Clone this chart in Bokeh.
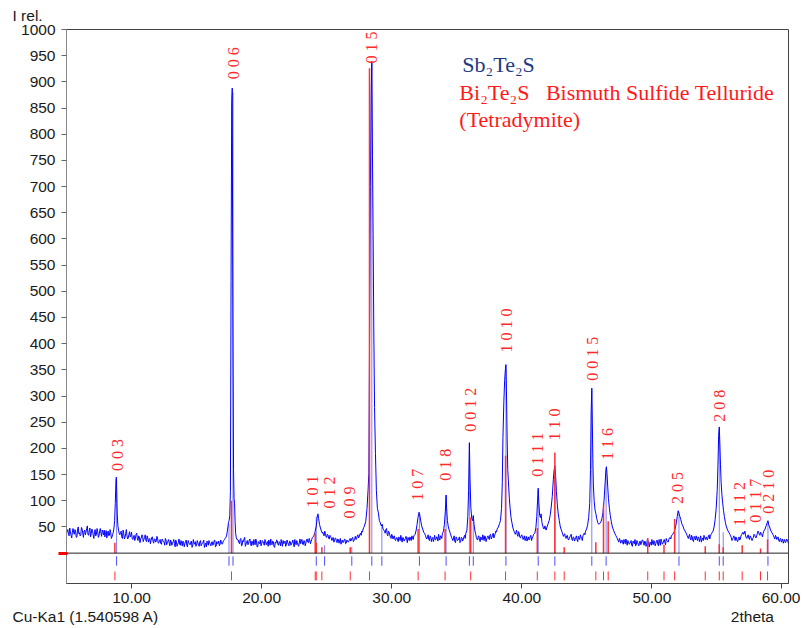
import numpy as np
from bokeh.plotting import figure
from bokeh.models import FixedTicker, PrintfTickFormatter, Label, Range1d, Span, Title
from bokeh.embed import file_html
from bokeh.resources import INLINE
from bokeh.core.properties import value

# ---------------- data ----------------
# background stretches: (first 2theta, intensities every 0.1 deg); *_mid = readings in between
bg_a = (5.0, [38, 45, 33, 41, 29, 47, 36, 42, 31, 50, 39, 35, 46, 30, 44, 40, 52, 34, 48, 37,
              43, 28, 45, 36, 41, 33, 47, 32, 40, 44, 36, 29, 42, 34, 39, 31])
bg_a_mid = [42, 36, 48, 34, 40, 39, 45, 30, 44, 37, 33, 49, 38, 42, 35, 47, 36, 43, 31, 46,
            35, 40, 33, 47, 30, 43, 38, 44, 35, 31, 43, 38, 33, 45, 28]
bg_b = (9.1, [35, 42, 28, 38, 30, 45, 27, 36, 31, 40,
              26, 34, 29, 38, 24, 31, 27, 35, 22, 30,
              25, 33, 21, 28, 24, 31, 19, 27, 23, 29,
              20, 26, 17, 24, 21, 28, 16, 23, 19, 25,
              15, 22, 18, 25, 13, 20, 17, 24, 14, 21,
              18, 25, 12, 20, 16, 23, 14, 19, 22, 15,
              20, 13, 24, 17, 21, 11, 19, 23, 15, 20,
              14, 22, 17, 25, 13, 19, 23, 16, 21, 18,
              24, 28, 33])
bg_b_mid = [39, 31, 44, 27, 37, 33, 29, 41, 34, 28,
            31, 24, 36, 27, 33, 20, 29, 32, 26, 35,
            22, 29, 26, 18, 30, 23, 27, 21, 32, 19,
            24, 18, 27, 22, 15, 25, 20, 26, 14, 22,
            19, 26, 12, 21, 17, 27, 15, 19, 23, 12,
            22, 15, 24, 18, 21, 11, 26, 17, 13, 24,
            16, 22, 14, 19, 25, 16, 12, 20, 24, 17,
            21, 15, 24, 12, 22, 18, 14, 25, 17, 23,
            26, 30]
bg_c = (18.2, [25, 18, 28, 15, 22, 30, 17, 24, 19, 27,
               14, 21, 26, 16, 23, 12, 20, 25, 17, 22,
               15, 24, 19, 13, 21, 27, 16, 22, 11, 19,
               24, 15, 20, 26, 13, 18, 23, 16, 21, 14,
               22, 17, 25, 12, 19, 24, 15, 21, 18, 26,
               16, 23, 19, 27, 20, 25, 22, 30])
bg_c_mid = [20, 26, 14, 24, 27, 13, 21, 16, 25, 18,
            23, 15, 20, 27, 12, 22, 18, 14, 24, 19,
            26, 16, 22, 25, 15, 18, 23, 13, 21, 25,
            17, 22, 14, 19, 24, 20, 13, 25, 17, 23,
            15, 21, 18, 26, 16, 20, 13, 27, 22, 17,
            24, 14, 26, 21, 28, 18, 26]
bg_d = (24.7, [40, 33, 38, 30, 35, 27, 32, 24, 30, 22,
               28, 20, 26, 23, 17, 25, 21, 27, 19, 24,
               22, 28, 25, 30, 24, 32, 27, 35, 31, 38,
               42, 46, 52])
bg_d_mid = [36, 42, 31, 36, 28, 34, 29, 27, 21, 29,
            24, 27, 19, 28, 22, 20, 26, 18, 25, 21,
            26, 23, 29, 22, 28, 26, 33, 29, 36, 34,
            40, 49]
bg_e = (29.4, [44, 38, 47, 33, 40, 30, 36, 27, 33, 24, 30, 22, 28, 34, 21, 29, 25, 32, 20, 27,
               31, 24, 29, 33])
bg_e_mid = [41, 45, 36, 42, 35, 28, 33, 31, 26, 29, 25, 31, 24, 27, 30, 23, 28, 26, 30, 24,
            27, 33, 26]
bg_f = (32.6, [33, 27, 35, 24, 31, 28, 22, 34, 26, 30, 36, 25, 32, 38])
bg_f_mid = [29, 31, 26, 33, 22, 30, 27, 25, 31, 23, 29, 33, 28]
bg_g = (34.6, [30, 24, 33, 20, 28, 25, 31, 22, 29, 26, 34, 38])
bg_g_mid = [27, 29, 22, 31, 24, 27, 20, 30, 23, 31, 28]
bg_h = (36.5, [30, 25, 33, 22, 28, 35, 24, 31, 27, 33, 26, 36, 30, 38, 33, 42, 46])
bg_h_mid = [27, 32, 24, 31, 25, 29, 33, 22, 30, 28, 35, 27, 34, 29, 37, 40]
bg_i = (39.4, [42, 36, 44, 32, 38, 29, 35, 26, 33, 28, 23, 31, 26, 34, 29, 36])
bg_i_mid = [39, 40, 35, 41, 30, 33, 31, 29, 24, 32, 27, 25, 33, 24, 31]
bg_j = (43.1, [40, 32, 37, 28, 34, 25, 31, 36, 24, 30, 27, 33, 22, 29, 35, 28, 33, 38, 42])
bg_j_mid = [36, 35, 30, 33, 27, 29, 34, 26, 31, 23, 30, 25, 32, 26, 31, 24, 36, 35]
bg_k = (47.3, [30, 24, 28, 19, 25, 17, 23, 27, 15, 22,
               18, 24, 13, 21, 26, 16, 20, 14, 23, 19,
               25, 15, 21, 17, 24, 12, 20, 26, 16, 22,
               18, 25, 14, 21, 27, 17, 23, 20, 28, 22,
               26, 30, 33])
bg_k_mid = [27, 21, 25, 22, 20, 26, 18, 21, 24, 17,
            21, 15, 23, 18, 14, 24, 17, 22, 16, 25,
            19, 23, 13, 26, 18, 21, 15, 19, 24, 14,
            23, 17, 26, 15, 22, 19, 26, 16, 24, 21,
            29, 27]
bg_l = (52.7, [34, 28, 36, 25, 31, 22, 29, 33, 24, 30, 27, 21, 29, 34, 26, 31, 28, 35, 32, 38])
bg_l_mid = [31, 33, 27, 34, 24, 32, 25, 28, 31, 22, 33, 26, 24, 31, 29, 25, 33, 27, 36]
bg_m = (56.0, [36, 30, 26, 33, 24, 29, 22, 31, 27, 35,
               40, 38, 33, 28, 35, 26, 31, 24, 30, 34,
               29, 37, 40, 34, 38, 31, 42])
bg_m_mid = [33, 24, 30, 28, 31, 23, 28, 25, 33, 38, 36, 42, 30, 33, 29, 33, 27, 28, 36, 31,
            33, 42, 36, 40, 35, 38]
bg_n = (59.3, [36, 30, 34, 26, 31, 22, 28, 24, 19, 26, 21, 25, 18])
bg_n_mid = [33, 27, 31, 29, 24, 27, 21, 27, 23, 20, 27, 22]

# peak regions: (2theta, intensity)
pk_003 = [(8.55, 36), (8.6, 40), (8.65, 48), (8.7, 62), (8.75, 95), (8.8, 138), (8.83, 145),
          (8.86, 118), (8.9, 75), (8.95, 52), (9.0, 44), (9.05, 38)]
pk_006 = [(17.35, 40), (17.4, 48), (17.45, 58), (17.5, 62), (17.55, 72), (17.6, 118), (17.65, 520),
          (17.7, 860), (17.74, 888), (17.77, 596), (17.8, 380), (17.84, 160), (17.88, 104),
          (17.92, 94), (17.96, 60), (18.0, 38), (18.05, 30), (18.1, 26)]
pk_101 = [(24.0, 32), (24.1, 40), (24.2, 52), (24.27, 68), (24.33, 75), (24.38, 66), (24.45, 55),
          (24.52, 48), (24.6, 42), (24.67, 38)]
pk_015 = [(28.0, 60), (28.1, 85), (28.18, 120), (28.24, 152), (28.3, 424), (28.36, 700),
          (28.42, 880), (28.47, 939), (28.52, 760), (28.57, 609), (28.62, 430), (28.68, 278),
          (28.75, 190), (28.82, 120), (28.9, 85), (28.97, 78), (29.05, 62), (29.12, 58),
          (29.2, 52), (29.27, 55), (29.33, 46)]
pk_107 = [(31.8, 36), (31.88, 44), (31.95, 55), (32.02, 68), (32.1, 78), (32.15, 74), (32.22, 63),
          (32.3, 52), (32.38, 46), (32.46, 40), (32.54, 37)]
pk_018 = [(33.98, 42), (34.05, 55), (34.12, 80), (34.18, 111), (34.22, 86), (34.28, 62),
          (34.35, 50), (34.42, 44), (34.5, 38)]
pk_0012 = [(35.78, 44), (35.85, 70), (35.91, 120), (35.97, 211), (36.02, 140), (36.08, 88),
           (36.15, 66), (36.22, 62), (36.27, 72), (36.33, 54), (36.4, 42), (36.46, 36)]
pk_1010 = [(38.2, 50), (38.28, 56), (38.36, 62), (38.44, 85), (38.5, 135), (38.55, 221),
           (38.62, 290), (38.68, 330), (38.74, 352), (38.78, 360), (38.82, 310), (38.87, 220),
           (38.92, 160), (38.98, 132), (39.04, 105), (39.1, 86), (39.17, 68), (39.24, 58),
           (39.32, 48)]
pk_0111_110 = [(41.0, 38), (41.08, 48), (41.15, 70), (41.21, 100), (41.26, 124), (41.31, 96),
               (41.37, 72), (41.43, 68), (41.48, 75), (41.55, 58), (41.63, 50), (41.7, 46),
               (41.78, 52), (41.86, 44), (41.94, 50), (42.02, 56), (42.1, 62), (42.18, 72),
               (42.26, 88), (42.34, 108), (42.42, 140), (42.48, 158), (42.54, 167), (42.6, 148),
               (42.66, 118), (42.73, 92), (42.8, 75), (42.88, 62), (42.96, 50), (43.04, 44)]
pk_0015_116 = [(44.98, 46), (45.06, 54), (45.14, 68), (45.22, 95), (45.28, 160), (45.33, 270),
               (45.38, 315), (45.42, 250), (45.46, 180), (45.5, 130), (45.56, 100), (45.63, 82),
               (45.69, 76), (45.76, 66), (45.84, 58), (45.92, 55), (46.0, 57), (46.08, 60),
               (46.16, 66), (46.24, 78), (46.32, 100), (46.4, 132), (46.46, 158), (46.5, 165),
               (46.55, 152), (46.6, 128), (46.66, 104), (46.73, 86), (46.8, 72), (46.88, 60),
               (46.96, 50), (47.05, 44), (47.14, 38), (47.22, 34)]
pk_205 = [(51.6, 36), (51.7, 40), (51.8, 48), (51.88, 58), (51.95, 70), (52.02, 81), (52.08, 76),
          (52.15, 70), (52.22, 64), (52.3, 56), (52.38, 52), (52.46, 46), (52.55, 42), (52.64, 38)]
pk_208 = [(54.7, 42), (54.78, 50), (54.86, 64), (54.94, 85), (55.02, 120), (55.08, 170),
          (55.13, 225), (55.18, 241), (55.22, 212), (55.27, 170), (55.32, 135), (55.38, 112),
          (55.44, 96), (55.5, 82), (55.57, 70), (55.65, 58), (55.73, 50), (55.82, 44), (55.9, 40)]
pk_0210 = [(58.7, 46), (58.78, 52), (58.86, 58), (58.92, 62), (58.98, 54), (59.05, 50),
           (59.12, 44), (59.2, 40)]

# reference stick patterns
bi_pos = [8.72, 17.68, 24.12, 24.20, 24.63, 26.81, 28.29, 32.03, 34.10, 36.07, 38.75, 41.19,
          42.54, 43.26, 45.69, 46.28, 46.64, 49.68, 50.93, 51.75, 54.10, 55.18, 55.48, 56.94,
          58.35, 58.89]
bi_int = [20, 100, 38, 20, 11, 11, 926, 46, 46, 68, 186, 48, 192, 11, 21, 92, 61, 29, 16, 65,
          13, 17, 11, 15, 9, 26]
sb_pos = [8.85, 17.49, 17.80, 24.20, 24.84, 26.93, 28.47, 29.24, 32.13, 34.18, 35.97, 36.27,
          38.78, 41.26, 42.54, 45.38, 46.48, 52.08, 55.18, 55.48, 58.92]
sb_int = [140, 55, 880, 70, 15, 12, 935, 55, 75, 108, 205, 70, 355, 120, 160, 310, 160, 78,
          238, 40, 60]

# (hkl) labels: text, 2theta, intensity at label foot
hkl_text = ["0 0 3", "0 0 6", "0 1 5", "1 0 1", "0 1 2", "0 0 9", "1 0 7", "0 1 8", "0 0 1 2",
            "1 0 1 0", "0 1 1 1", "1 1 0", "0 0 1 5", "1 1 6", "2 0 5", "2 0 8", "1 1 1 2",
            "0 1 1 7", "0 2 1 0"]
hkl_x = [8.95, 17.85, 28.45, 23.92, 25.22, 26.76, 31.95, 34.12, 36.04, 38.80, 41.18, 42.54,
         45.41, 46.56, 52.00, 55.22, 56.76, 57.97, 58.99]
hkl_y = [157, 905, 935, 87, 85, 66, 100, 138, 232, 383, 146, 215, 329, 178, 94, 251, 52, 58, 75]

y_ticks = [50, 100, 150, 200, 250, 300, 350, 400, 450, 500, 550, 600, 650, 700, 750, 800, 850,
           900, 950, 1000]
x_ticks = [10, 20, 30, 40, 50, 60]

# ---------------- assemble pattern ----------------
pts = []
bgs = [(bg_a, bg_a_mid), (bg_b, bg_b_mid), (bg_c, bg_c_mid), (bg_d, bg_d_mid), (bg_e, bg_e_mid),
       (bg_f, bg_f_mid), (bg_g, bg_g_mid), (bg_h, bg_h_mid), (bg_i, bg_i_mid), (bg_j, bg_j_mid),
       (bg_k, bg_k_mid), (bg_l, bg_l_mid), (bg_m, bg_m_mid), (bg_n, bg_n_mid)]
for (start, vals), mid in bgs:
    xs = np.round(start + 0.1 * np.arange(len(vals)), 3)
    pts.extend(zip(xs, vals))
    xm = np.round(start + 0.05 + 0.1 * np.arange(len(mid)), 3)
    pts.extend(zip(xm, mid))
for pk in [pk_003, pk_006, pk_101, pk_015, pk_107, pk_018, pk_0012, pk_1010, pk_0111_110,
           pk_0015_116, pk_205, pk_208, pk_0210]:
    pts.extend(pk)
pts.sort(key=lambda t: t[0])
two_theta = [float(a) for a, b in pts]
intensity = [float(b) for a, b in pts]

# ---------------- figure ----------------
p = figure(width=800, height=628, x_range=Range1d(5, 60.5), y_range=Range1d(-58, 1000),
           output_backend="svg", toolbar_location=None,
           min_border_left=66, min_border_right=12, min_border_top=29, min_border_bottom=45)
p.xgrid.visible = False
p.ygrid.visible = False
p.outline_line_color = "#444444"

p.title.text = "I rel."
p.title.align = "left"
p.title.vertical_align = "top"
p.title.offset = -54
p.title.standoff = 8
p.title.text_font = "Liberation Sans"
p.title.text_font_size = "15.5px"
p.title.text_font_style = "normal"
p.title.text_color = "#1a1a1a"

ax = p.xaxis[0]
ax.ticker = FixedTicker(ticks=x_ticks)
ax.formatter = PrintfTickFormatter(format="%.2f")
ax.minor_tick_line_color = None
ax.major_tick_in = 0
ax.major_tick_out = 5
ax.axis_line_color = "#444444"
ax.major_tick_line_color = "#444444"
ax.major_label_text_font = "Liberation Sans"
ax.major_label_text_font_size = "15.5px"
ax.major_label_text_color = "#1a1a1a"
ax.major_label_standoff = 4

ay = p.yaxis[0]
ay.ticker = FixedTicker(ticks=y_ticks, minor_ticks=[0])
ay.minor_tick_line_color = "#ff0000"
ay.minor_tick_line_width = 3
ay.minor_tick_out = 8
ay.minor_tick_in = 1
ay.major_tick_in = 0
ay.major_tick_out = 5
ay.axis_line_color = "#888888"
ay.major_tick_line_color = "#666666"
ay.major_label_text_font = "Liberation Sans"
ay.major_label_text_font_size = "15.5px"
ay.major_label_text_color = "#1a1a1a"
ay.major_label_standoff = 3

NB = "\u00a0"
bottom = Title(text="Cu-Ka1 (1.540598 A)" + NB * 133 + "2theta", align="left", offset=-54,
               standoff=0, text_font="Liberation Sans", text_font_size="15.5px",
               text_font_style="normal", text_color="#1a1a1a")
p.add_layout(bottom, "below")

p.add_layout(Span(location=0, dimension="width", line_color="#222222", line_width=1))

p.segment(x0=sb_pos, y0=0, x1=sb_pos, y1=sb_int, line_color="#8080ff", line_width=1)
p.line(two_theta, intensity, line_color="#0000ff", line_width=1)
p.segment(x0=bi_pos, y0=0, x1=bi_pos, y1=bi_int, line_color="#ff3030", line_width=1.5)

p.segment(x0=sb_pos, y0=-6, x1=sb_pos, y1=-24, line_color="#4d4dff", line_width=1)
p.segment(x0=bi_pos, y0=-35, x1=bi_pos, y1=-52, line_color="#ff3030", line_width=1)

p.text(x=hkl_x, y=hkl_y, text=hkl_text, angle=np.pi / 2, text_align="left",
       text_baseline="middle", text_font=value("Liberation Serif"), text_font_size="16px",
       text_color="#ff2a2a")

p.add_layout(Label(x=35.43, y=933, text="Sb₂Te₂S", text_font="Liberation Serif",
                   text_font_size="22px", text_color="#1f3a80", text_baseline="middle"))
p.add_layout(Label(x=35.2, y=880, text="Bi₂Te₂S" + NB * 3 + "Bismuth Sulfide Telluride",
                   text_font="Liberation Serif", text_font_size="22px", text_color="#ff1a1a",
                   text_baseline="middle"))
p.add_layout(Label(x=35.2, y=828, text="(Tetradymite)", text_font="Liberation Serif",
                   text_font_size="22px", text_color="#ff1a1a", text_baseline="middle"))

open("out.html", "w").write(file_html(p, INLINE))
